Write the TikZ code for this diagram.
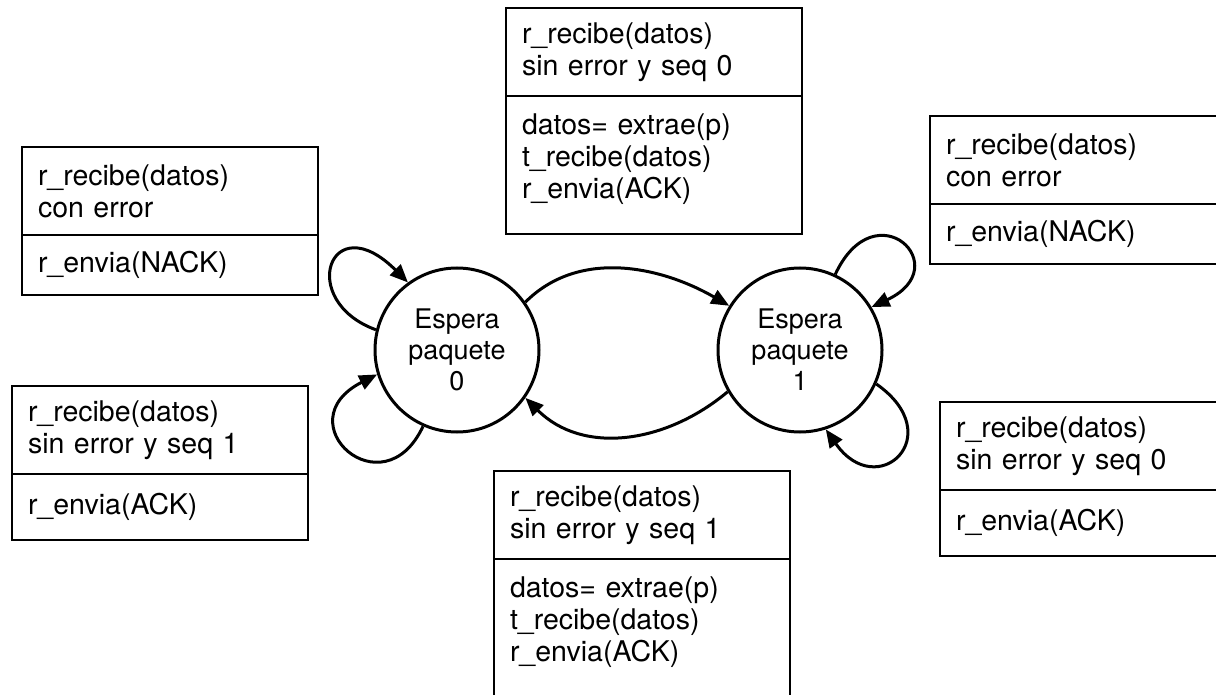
\documentclass[tikz,border=0pt]{standalone}
\usepackage{fontspec}
\setmainfont{TeX Gyre Heros}
\usepackage{tikz}
\usetikzlibrary{arrows.meta, positioning}
\tikzstyle{waitstate} = [circle, draw=black, line width=3pt, minimum size=164pt, align=center, font=\fontsize{27}{31}\selectfont]
\tikzstyle{guard} = [rectangle, draw=black, line width=1.5pt, minimum width=296pt, minimum height=88pt, text width=264pt, inner xsep=16pt, inner ysep=0pt, outer sep=0pt, align=left, font=\fontsize{28.5}{32}\selectfont]
\tikzstyle{action} = [guard, minimum height=60pt]
\tikzstyle{arrow} = [line width=3pt, -{Triangle[length=18pt,width=15pt]}]

\begin{document}
\begin{tikzpicture}[x=1pt, y=1pt, node distance=0pt]
        \useasboundingbox (0,0) rectangle (1216,-695);
        \clip (0,0) rectangle (1216,-695);
        % states
        \node (wait_0) [waitstate] at (457,-350) {Espera\\paquete\\0};
        \node (wait_1) [waitstate] at (800,-350) {Espera\\paquete\\1};
        % transition boxes
        \node (nack_left) [guard, anchor=north west] at (22,-147) {r\_recibe(datos)\\con error};
        \node (nack_left_act) [action, below=of nack_left] {r\_envia(NACK)};
        \node (dup_left) [guard, anchor=north west] at (12,-386) {r\_recibe(datos)\\sin error y seq 1};
        \node (dup_left_act) [action, minimum height=66pt, below=of dup_left] {r\_envia(ACK)};
        \node (data_top) [guard, anchor=north west] at (506,-8) {r\_recibe(datos)\\sin error y seq 0};
        \node (data_top_act) [action, minimum height=138pt, below=of data_top] {datos= extrae(p)\\t\_recibe(datos)\\r\_envia(ACK)\\[-14pt]\mbox{}};
        \node (data_bottom) [guard, anchor=north west] at (494,-471) {r\_recibe(datos)\\sin error y seq 1};
        \node (data_bottom_act) [action, minimum height=138pt, below=of data_bottom] {datos= extrae(p)\\t\_recibe(datos)\\r\_envia(ACK)\\[-14pt]\mbox{}};
        \node (nack_right) [guard, anchor=north west] at (930,-116) {r\_recibe(datos)\\con error};
        \node (nack_right_act) [action, below=of nack_right] {r\_envia(NACK)};
        \node (dup_right) [guard, anchor=north west] at (940,-402) {r\_recibe(datos)\\sin error y seq 0};
        \node (dup_right_act) [action, minimum height=66pt, below=of dup_right] {r\_envia(ACK)};

        \draw [arrow] (wait_0.35) to[out=45, in=150, distance=77pt] (wait_1.148);
        \draw [arrow] (wait_1.210) to[out=220, in=-45, distance=81pt] (wait_0.325);
        % self loops
        \draw [arrow] (wait_0.166) to[out=160, in=135, out distance=85pt, in distance=110pt] (wait_0.126);
        \draw [arrow] (wait_0.246) to[out=245, in=207, out distance=95pt, in distance=105pt] (wait_0.197);
        \draw [arrow] (wait_1.65) to[out=65, in=25, distance=95pt] (wait_1.31);
        \draw [arrow] (wait_1.336) to[out=-35, in=-55, distance=90pt] (wait_1.288);
    \end{tikzpicture}
\end{document}
